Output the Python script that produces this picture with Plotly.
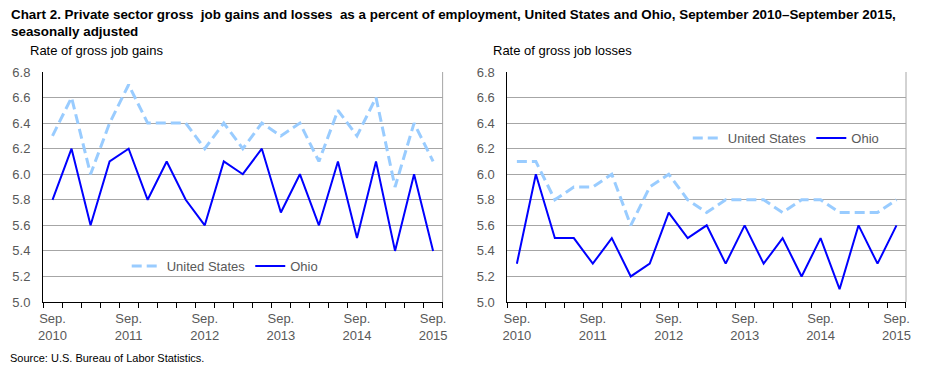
import plotly.graph_objects as go

quarters = list(range(21))
tick_pos = [0, 4, 8, 12, 16, 20]
tick_text = ["Sep.<br>2010", "Sep.<br>2011", "Sep.<br>2012", "Sep.<br>2013", "Sep.<br>2014", "Sep.<br>2015"]

gains_us = [6.3, 6.6, 6.0, 6.4, 6.7, 6.4, 6.4, 6.4, 6.2, 6.4, 6.2, 6.4, 6.3, 6.4, 6.1, 6.5, 6.3, 6.6, 5.9, 6.4, 6.1]
gains_oh = [5.8, 6.2, 5.6, 6.1, 6.2, 5.8, 6.1, 5.8, 5.6, 6.1, 6.0, 6.2, 5.7, 6.0, 5.6, 6.1, 5.5, 6.1, 5.4, 6.0, 5.4]
losses_us = [6.1, 6.1, 5.8, 5.9, 5.9, 6.0, 5.6, 5.9, 6.0, 5.8, 5.7, 5.8, 5.8, 5.8, 5.7, 5.8, 5.8, 5.7, 5.7, 5.7, 5.8]
losses_oh = [5.3, 6.0, 5.5, 5.5, 5.3, 5.5, 5.2, 5.3, 5.7, 5.5, 5.6, 5.3, 5.6, 5.3, 5.5, 5.2, 5.5, 5.1, 5.6, 5.3, 5.6]

US_COLOR = "#99CCFF"
OH_COLOR = "#0000FF"
FONT = "Arial, Liberation Sans, sans-serif"
TICK_COLOR = "#595959"

fig = go.Figure()
fig.add_trace(go.Scatter(x=quarters, y=gains_us, mode="lines", name="United States",
                         line=dict(color=US_COLOR, width=3, dash="10px,5px"),
                         xaxis="x", yaxis="y", legend="legend"))
fig.add_trace(go.Scatter(x=quarters, y=gains_oh, mode="lines", name="Ohio",
                         line=dict(color=OH_COLOR, width=2),
                         xaxis="x", yaxis="y", legend="legend"))
fig.add_trace(go.Scatter(x=quarters, y=losses_us, mode="lines", name="United States",
                         line=dict(color=US_COLOR, width=3, dash="10px,5px"),
                         xaxis="x2", yaxis="y2", legend="legend2"))
fig.add_trace(go.Scatter(x=quarters, y=losses_oh, mode="lines", name="Ohio",
                         line=dict(color=OH_COLOR, width=2),
                         xaxis="x2", yaxis="y2", legend="legend2"))

L, R, T, B = 40, 24, 72, 70
W, H = 930, 372
pw = W - L - R
ph = H - T - B

def px_x(x):
    return (x - L) / pw

def px_y(y):
    return (H - B - y) / ph

minor_vals = [i - 0.5 for i in range(22)]

xcommon = dict(range=[-0.5, 20.5], tickvals=tick_pos, ticktext=tick_text, ticks="",
               showgrid=False, showline=True, linecolor="black", linewidth=1,
               tickfont=dict(family=FONT, size=13, color=TICK_COLOR), zeroline=False,
               ticklabelstandoff=4,
               minor=dict(tickvals=minor_vals, ticks="outside", ticklen=5, tickcolor="black", tickwidth=1, showgrid=False),
               fixedrange=True)
ycommon = dict(range=[5.0, 6.8], tickvals=[5.0 + 0.2 * i for i in range(10)], tickformat=".1f",
               showgrid=True, gridcolor="#A6A6A6", gridwidth=1, showline=True, linecolor="black",
               linewidth=1, ticks="", zeroline=False, ticklabelstandoff=9,
               tickfont=dict(family=FONT, size=13, color=TICK_COLOR), fixedrange=True)

fig.update_layout(
    width=W, height=H,
    margin=dict(l=L, r=R, t=T, b=B),
    paper_bgcolor="white", plot_bgcolor="white",
    font=dict(family=FONT, size=13, color="black"),
    xaxis=dict(domain=[0, px_x(441)], anchor="y", **xcommon),
    yaxis=dict(domain=[0, 1], anchor="x", **ycommon),
    xaxis2=dict(domain=[px_x(506), 1], anchor="y2", **xcommon),
    yaxis2=dict(domain=[0, 1], anchor="x2", **ycommon),
    legend=dict(orientation="h", x=px_x(124), y=px_y(266), xanchor="left", yanchor="middle",
                bgcolor="rgba(0,0,0,0)", itemwidth=30, tracegroupgap=0,
                font=dict(family=FONT, size=13, color=TICK_COLOR)),
    legend2=dict(orientation="h", x=px_x(687), y=px_y(138), xanchor="left", yanchor="middle",
                 bgcolor="rgba(0,0,0,0)", itemwidth=30, tracegroupgap=0,
                 font=dict(family=FONT, size=13, color=TICK_COLOR)),
    showlegend=True,
)

for xr, yr in (("x domain", "y domain"), ("x2 domain", "y2 domain")):
    fig.add_shape(type="line", xref=xr, yref=yr, x0=1, x1=1, y0=0, y1=1,
                  line=dict(color="#A6A6A6", width=1))

fig.add_annotation(text="<b>Chart 2. Private sector gross  job gains and losses  as a percent of employment, United States and Ohio, September 2010–September 2015,<br>seasonally adjusted</b>",
                   xref="paper", yref="paper", x=px_x(6), y=px_y(5), xanchor="left", yanchor="top",
                   align="left", showarrow=False, font=dict(family=FONT, size=13.4, color="black"))
fig.add_annotation(text="Rate of gross job gains", xref="paper", yref="paper",
                   x=px_x(25), y=px_y(50), xanchor="left", yanchor="middle", showarrow=False,
                   font=dict(family=FONT, size=13, color="black"))
fig.add_annotation(text="Rate of gross job losses", xref="paper", yref="paper",
                   x=px_x(490), y=px_y(50), xanchor="left", yanchor="middle", showarrow=False,
                   font=dict(family=FONT, size=13, color="black"))
fig.add_annotation(text="Source: U.S. Bureau of Labor Statistics.", xref="paper", yref="paper",
                   x=px_x(5), y=px_y(358), xanchor="left", yanchor="middle", showarrow=False,
                   font=dict(family=FONT, size=11, color="black"))

fig.write_html("out.html", config={"displayModeBar": False},
               post_script="document.body.style.margin='0';document.body.style.overflow='hidden';")
